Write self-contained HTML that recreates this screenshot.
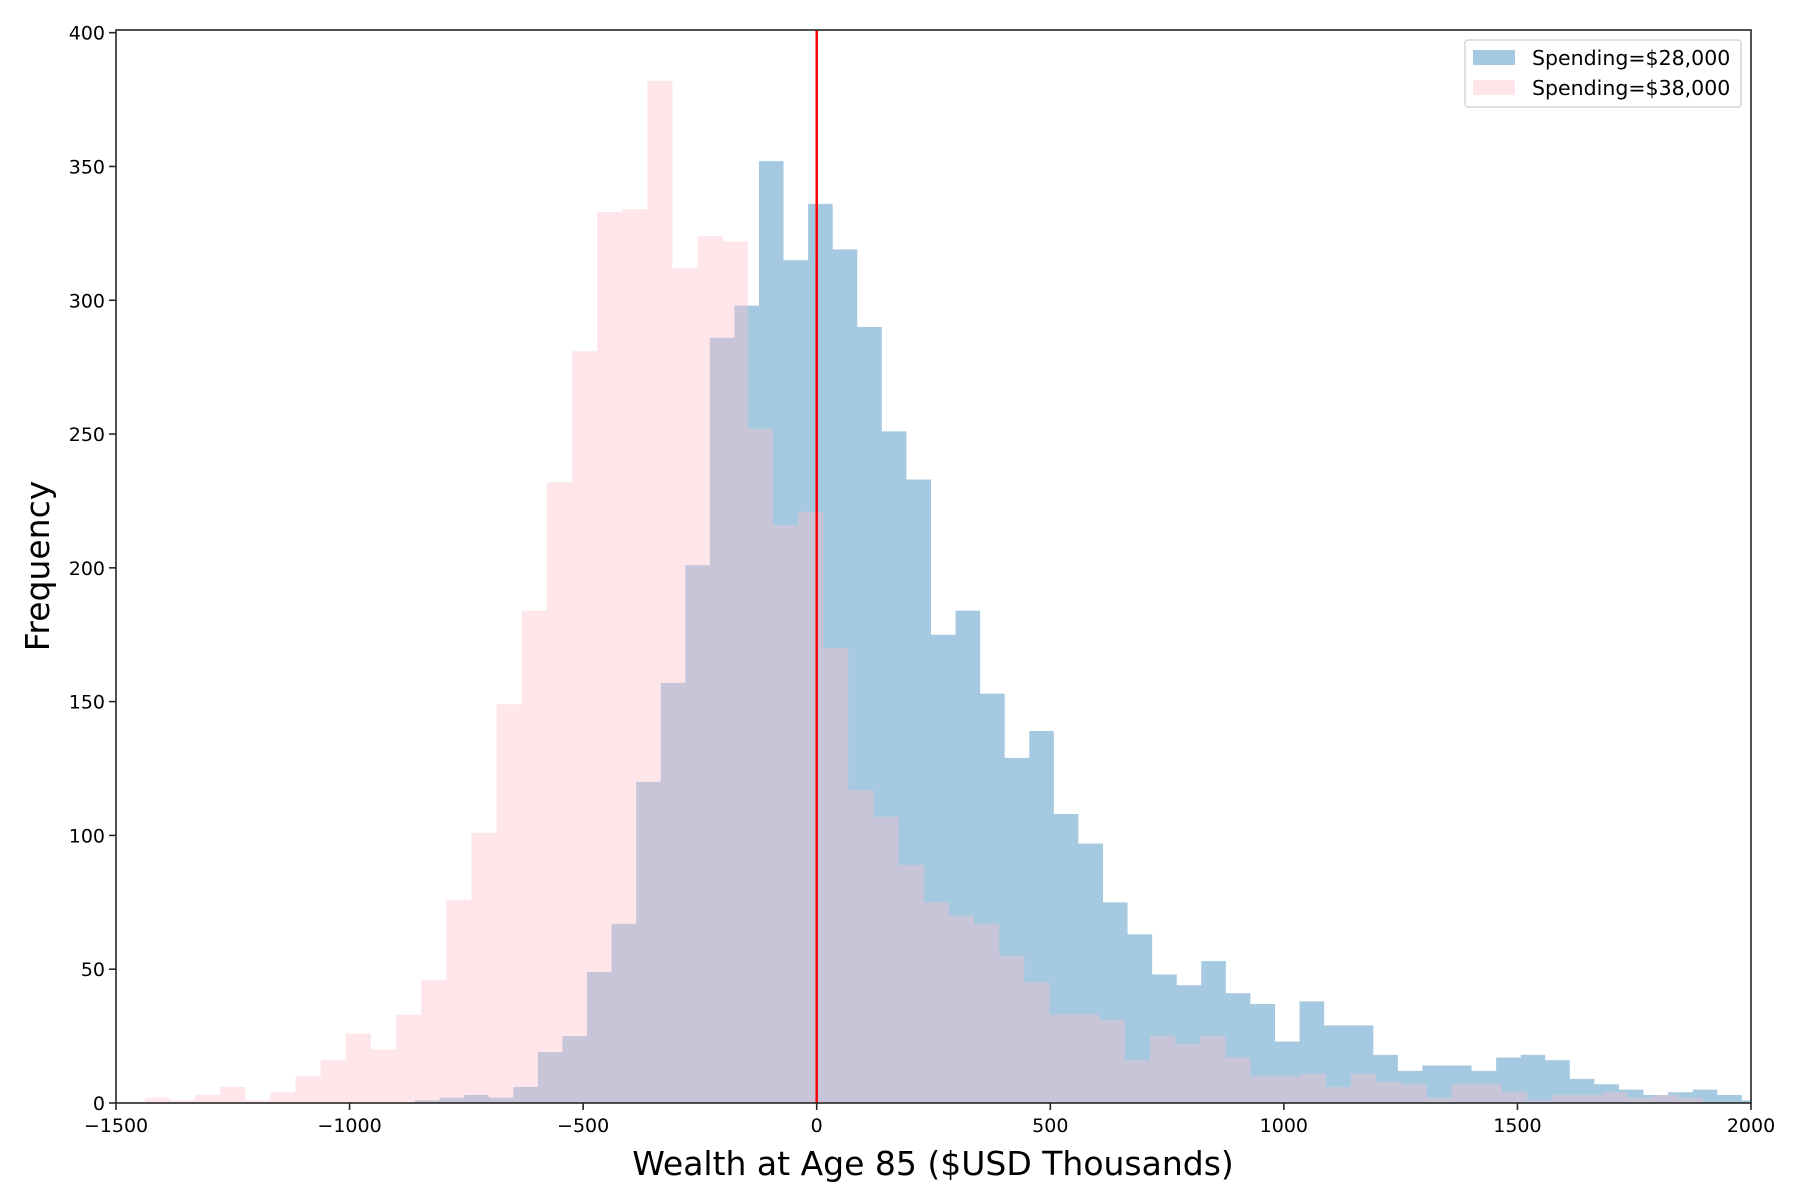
<!DOCTYPE html>
<html><head><meta charset="utf-8"><style>
html,body{margin:0;padding:0;background:#fff;}
svg{display:block;font-family:"DejaVu Sans","Liberation Sans",sans-serif;}
</style></head><body>
<svg id="chart" width="1800" height="1200" xmlns="http://www.w3.org/2000/svg">
<rect x="0" y="0" width="1800" height="1200" fill="#fff"/>
<g id="bars-blue"></g>
<g id="bars-pink"></g>
<g id="axes"></g>
<text x="933" y="1175" font-size="33" text-anchor="middle">Wealth at Age 85 ($USD Thousands)</text>
<text x="0" y="0" font-size="33" text-anchor="middle" transform="translate(49,566) rotate(-90)">Frequency</text>
<g>
<rect x="1465" y="40" width="276" height="67" rx="3" fill="#fff" fill-opacity="0.8" stroke="#d6d6d6" stroke-width="1.5"/>
<rect x="1473" y="50" width="42" height="15" fill="#1f77b4" fill-opacity="0.4"/>
<text x="1532" y="65" font-size="20.5">Spending=$28,000</text>
<rect x="1473" y="80" width="42" height="15" fill="#ffc0cb" fill-opacity="0.4"/>
<text x="1532" y="95" font-size="20.5">Spending=$38,000</text>
</g>
</svg>
<script>
const blueStart = -860;
const blueWidth = 52.6;
const blueCounts = [1,2,3,2,6,19,25,49,67,120,157,201,286,298,352,315,336,319,290,251,233,175,184,153,129,139,108,97,75,63,48,44,53,41,37,23,38,29,29,18,12,14,14,12,17,18,16,9,7,5,3,4,5,3,1];
const pinkStart = -1438.6;
const pinkWidth = 53.8;
const pinkCounts = [2,1,3,6,1,4,10,16,26,20,33,46,76,101,149,184,232,281,333,334,382,312,324,322,252,216,221,170,117,107,89,75,70,67,55,45,33,33,31,16,25,22,25,17,10,10,11,6,11,8,7,2,7,7,4,1,3,3,4,2,3,2];
const xTicks = [-1500,-1000,-500,0,500,1000,1500,2000];
const yTicks = [0,50,100,150,200,250,300,350,400];
const xMin=-1500, xMax=2000, yMax=401;
const L=116, R=1751, T=30, B=1103;
function xs(v){return L+(v-xMin)/(xMax-xMin)*(R-L);}
function ys(v){return B-v/yMax*(B-T);}
const NS="http://www.w3.org/2000/svg";
function mk(tag,attrs,parent){const e=document.createElementNS(NS,tag);for(const k in attrs)e.setAttribute(k,attrs[k]);parent.appendChild(e);return e;}
function drawBars(gid,start,width,counts,color,name){
  const g=document.getElementById(gid);
  let d='';
  counts.forEach((c,i)=>{
    let a=start+i*width, b=a+width;
    if(b<=xMin||a>=xMax)return;
    a=Math.max(a,xMin); b=Math.min(b,xMax);
    if(d==='') d='M'+xs(a)+','+B;
    d+=' L'+xs(a)+','+ys(c)+' L'+xs(b)+','+ys(c);
  });
  let lastEnd=Math.min(start+counts.length*width,xMax);
  d+=' L'+xs(lastEnd)+','+B+' Z';
  const p=mk('path',{d:d,fill:color,'fill-opacity':0.4},g);
  
  
}
drawBars('bars-blue',blueStart,blueWidth,blueCounts,'#1f77b4','blue');
drawBars('bars-pink',pinkStart,pinkWidth,pinkCounts,'#ffc0cb','pink');
const ax=document.getElementById('axes');
const zl=mk('line',{x1:xs(0),x2:xs(0),y1:T,y2:B,stroke:'#ff0000','stroke-width':2.5},ax);


const fr=mk('rect',{x:L,y:T,width:R-L,height:B-T,fill:'none',stroke:'#262626','stroke-width':1.6},ax);


xTicks.forEach(v=>{
  const x=xs(v);
  mk('line',{x1:x,x2:x,y1:B,y2:B+7,stroke:'#262626','stroke-width':1.6},ax);
  const t=mk('text',{x:x,y:B+29,'font-size':19,'text-anchor':'middle'},ax);
  t.textContent=(v<0?'\u2212'+Math.abs(v):String(v));
  
  
});
yTicks.forEach(v=>{
  const y=ys(v);
  mk('line',{x1:L-7,x2:L,y1:y,y2:y,stroke:'#262626','stroke-width':1.6},ax);
  const t=mk('text',{x:L-11,y:y+7,'font-size':19,'text-anchor':'end'},ax);
  t.textContent=String(v);
  
  
});
</script>
</body></html>
